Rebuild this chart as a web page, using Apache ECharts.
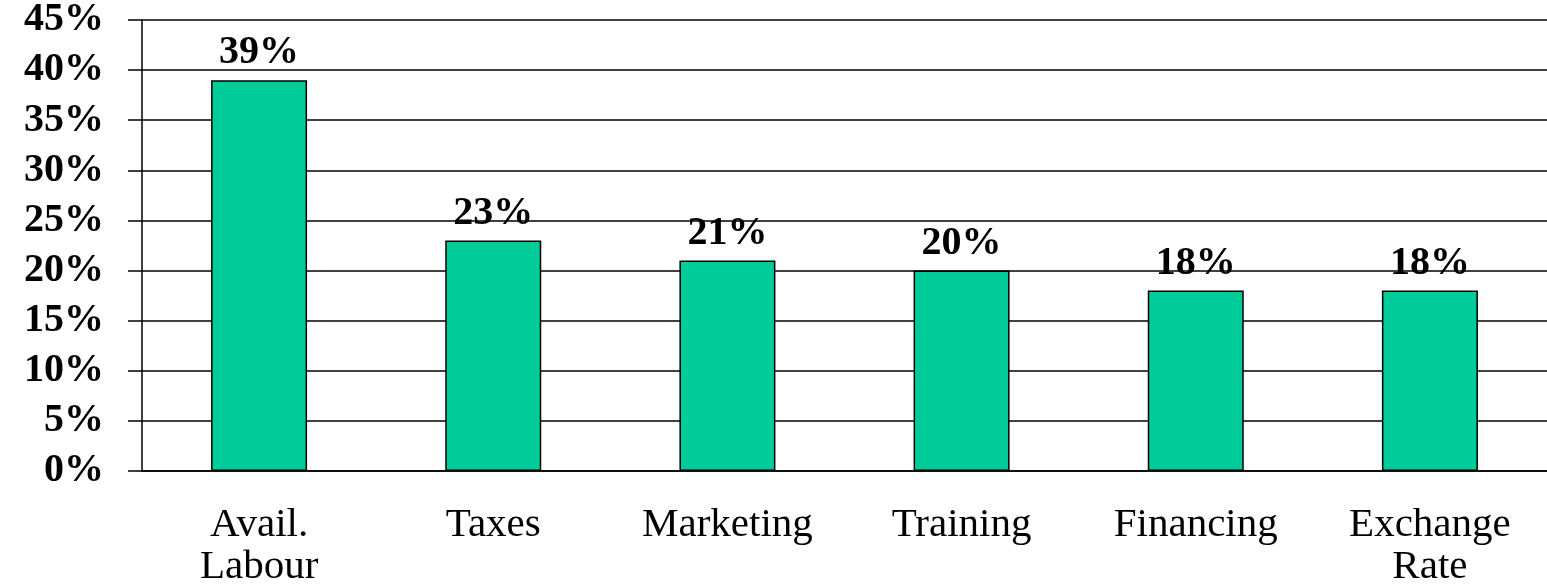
<!DOCTYPE html>
<html>
<head>
<meta charset="utf-8">
<script src="https://cdn.jsdelivr.net/npm/echarts@6/dist/echarts.min.js"></script>
<style>
  html,body{margin:0;padding:0;background:#fff}
  #chart{width:1547px;height:588px}
</style>
</head>
<body>
<div id="chart"></div>
<script>
const categories = ['Avail.\nLabour','Taxes','Marketing','Training','Financing','Exchange\nRate']
const shares = [39, 23, 21, 20, 18, 18]
const yTicks = [0, 5, 10, 15, 20, 25, 30, 35, 40, 45]

const serif = '"Liberation Serif","Times New Roman",serif'
const chart = echarts.init(document.getElementById('chart'))
chart.setOption({
  animation:false,
  grid:{left:142, right:0, top:19, bottom:115},
  xAxis:{
    type:'category',
    data:categories,
    axisLine:{lineStyle:{color:'#000', width:1.5}},
    axisTick:{length:10, lineStyle:{color:'#000', width:1.5}},
    axisLabel:{interval:0, fontFamily:serif, fontSize:41, color:'#000', margin:33, lineHeight:42}
  },
  yAxis:{
    type:'value',
    min:yTicks[0], max:yTicks[yTicks.length-1], interval:5,
    axisLine:{show:true, lineStyle:{color:'#000', width:1.5}},
    axisTick:{show:true, length:14, lineStyle:{color:'#000', width:1.5}},
    splitLine:{lineStyle:{color:'#000', width:1.5}},
    axisLabel:{fontFamily:serif, fontSize:40, fontWeight:'bold', color:'#000', margin:38, formatter:v=>v+'%'}
  },
  series:[{
    type:'bar',
    data:shares,
    barWidth:96,
    itemStyle:{color:'#00CC99', borderColor:'#000', borderWidth:1.5},
    label:{show:true, position:'top', distance:7, fontFamily:serif, fontSize:40, fontWeight:'bold', color:'#000', formatter:p=>p.value+'%'}
  }]
})
</script>
</body>
</html>
